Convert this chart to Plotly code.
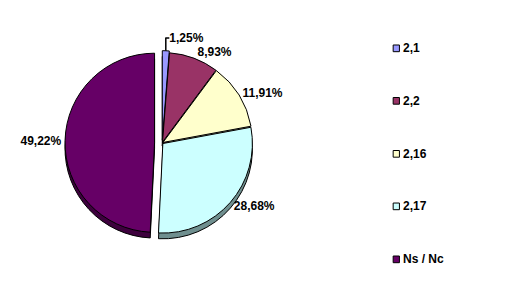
import plotly.graph_objects as go

labels = ["2,1", "2,2", "2,16", "2,17", "Ns / Nc"]
values = [1.25, 8.93, 11.91, 28.68, 49.22]
colors = ["#9999FF", "#993366", "#FFFFCC", "#CCFFFF", "#660066"]
dark = ["#5c5c99", "#5c1f3d", "#99997a", "#6f8f8f", "#3d003d"]
pulls = [0.03, 0.01, 0.01, 0.01, 0.085]

text = [f"{v:.2f}".replace(".", ",") + "%" for v in values]

FONT = "Arial, Liberation Sans, sans-serif"
W, H = 530, 288
fig = go.Figure()
dom_x = [0.019, 0.429]
dom_y = [0.154, 0.901]
shift = 6 / H
fig.add_trace(go.Pie(
    values=values, labels=labels, marker=dict(colors=dark, line=dict(color="black", width=1)),
    sort=False, direction="clockwise", rotation=0, pull=pulls,
    textinfo="none", hoverinfo="skip", showlegend=False,
    domain=dict(x=dom_x, y=[dom_y[0] - shift, dom_y[1] - shift]),
))
fig.add_trace(go.Pie(
    values=values, labels=labels, marker=dict(colors=colors, line=dict(color="black", width=1)),
    sort=False, direction="clockwise", rotation=0, pull=pulls,
    text=text, textinfo="text", textposition="outside",
    outsidetextfont=dict(family=FONT, size=12, color="black", weight="bold"),
    showlegend=False, domain=dict(x=dom_x, y=dom_y),
))

# legend drawn as shapes + annotations
leg_y = [37, 92, 147.5, 202.5, 258]
shapes, annos = [], []
for lab, col, yc in zip(labels, colors, leg_y):
    shapes.append(dict(type="rect", xref="paper", yref="paper",
                       x0=377 / W, x1=384 / W, y0=1 - (yc + 3.5) / H, y1=1 - (yc - 3.5) / H,
                       fillcolor=col, line=dict(color="black", width=1)))
    annos.append(dict(x=386 / W, y=1 - yc / H, xref="paper", yref="paper", text=lab,
                      showarrow=False, xanchor="left", yanchor="middle",
                      font=dict(family=FONT, size=12, color="black", weight="bold")))

fig.update_layout(
    width=W, height=H, margin=dict(l=0, r=0, t=0, b=0),
    paper_bgcolor="white", plot_bgcolor="white",
    showlegend=False, shapes=shapes, annotations=annos,
)
fig.write_html("out.html")
